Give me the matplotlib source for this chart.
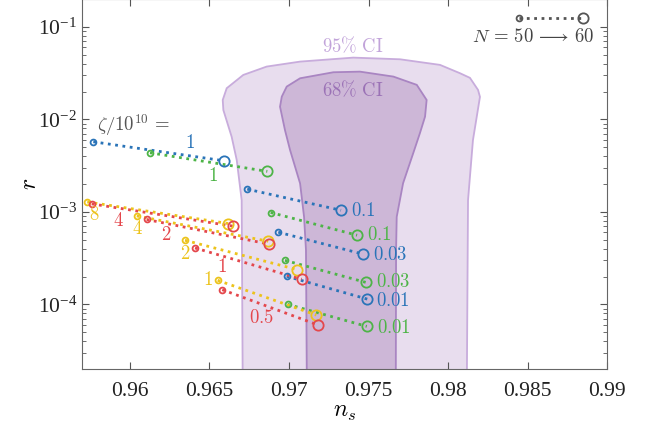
import matplotlib
matplotlib.use("Agg")
import matplotlib.pyplot as plt
from matplotlib.lines import Line2D
from matplotlib.legend_handler import HandlerBase

plt.rcParams["font.family"] = ["Liberation Serif", "DejaVu Serif"]
plt.rcParams["mathtext.fontset"] = "custom"
plt.rcParams["mathtext.rm"] = "Liberation Serif"
plt.rcParams["mathtext.it"] = "Liberation Serif:italic"
plt.rcParams["axes.unicode_minus"] = False

# ----------------------------
# Data: (n_s, r) for N=50 -> N=60, per zeta/10^10
# ----------------------------
blue_zeta = ["1", "0.1", "0.03", "0.01"]
blue_ns50 = [0.95771, 0.96738, 0.96933, 0.96986]
blue_r50 = [5.72e-3, 1.76e-3, 6.03e-4, 2.01e-4]
blue_ns60 = [0.96594, 0.97327, 0.97463, 0.97492]
blue_r60 = [3.56e-3, 1.04e-3, 3.50e-4, 1.14e-4]

green_zeta = ["1", "0.1", "0.03", "0.01"]
green_ns50 = [0.96127, 0.96885, 0.96975, 0.96992]
green_r50 = [4.35e-3, 9.84e-4, 2.99e-4, 1.00e-4]
green_ns60 = [0.96864, 0.97428, 0.97482, 0.97489]
green_r60 = [2.74e-3, 5.59e-4, 1.73e-4, 5.78e-5]

yellow_zeta = ["8", "4", "2", "1"]
yellow_ns50 = [0.95733, 0.96044, 0.96347, 0.96552]
yellow_r50 = [1.28e-3, 9.04e-4, 4.93e-4, 1.82e-4]
yellow_ns60 = [0.96619, 0.96870, 0.97049, 0.97172]
yellow_r60 = [7.48e-4, 4.81e-4, 2.38e-4, 7.66e-5]

red_zeta = ["4", "2", "1", "0.5"]
red_ns50 = [0.95761, 0.96106, 0.96410, 0.96581]
red_r50 = [1.22e-3, 8.27e-4, 4.07e-4, 1.44e-4]
red_ns60 = [0.96650, 0.96877, 0.97080, 0.97181]
red_r60 = [7.00e-4, 4.47e-4, 1.87e-4, 6.00e-5]

# Planck-like confidence regions (boundary traced, open at the bottom)
ci95_ns = [0.96710, 0.96703, 0.96672, 0.96640, 0.96588, 0.96584, 0.96609,
           0.96713, 0.96860, 0.97070, 0.97404, 0.97698, 0.97949, 0.98075,
           0.98137, 0.98188, 0.98200, 0.98156, 0.98125, 0.98117]
ci95_r = [1e-5, 1.34e-3, 3.63e-3, 6.49e-3, 1.26e-2, 1.62e-2, 2.17e-2,
          3.02e-2, 3.72e-2, 4.21e-2, 4.65e-2, 4.46e-2, 3.88e-2, 3.15e-2,
          2.81e-2, 2.08e-2, 1.75e-2, 5.97e-3, 1.34e-3, 1e-5]

ci68_ns = [0.97113, 0.97107, 0.97095, 0.97070, 0.97007, 0.96975, 0.96944,
           0.96955, 0.96986, 0.97070, 0.97279, 0.97446, 0.97656, 0.97803,
           0.97865, 0.97855, 0.97823, 0.97781, 0.97717, 0.97677, 0.97673,
           0.97671]
ci68_r = [1e-5, 3.85e-4, 8.82e-4, 2.03e-3, 4.66e-3, 7.66e-3, 1.37e-2,
          1.76e-2, 2.26e-2, 2.78e-2, 3.23e-2, 3.28e-2, 2.90e-2, 2.36e-2,
          1.62e-2, 1.07e-2, 7.11e-3, 4.32e-3, 2.04e-3, 8.82e-4, 3.85e-4,
          1e-5]

# label offsets (points) and which end they hang from
blue_lab = [("end", -24.7, 12.5), ("end", 7.5, -0.7), ("end", 7.5, -0.9), ("end", 6.5, -1.4)]
green_lab = [("end", -38.9, -3.4), ("end", 7.5, 0), ("end", 7.5, 0.2), ("end", 7.5, -1.2)]
yellow_lab = [("start", 4.8, -9.6), ("start", 0.4, -9.1), ("start", 0, -9.6), ("start", -7.2, 0.5)]
red_lab = [("start", 19.2, -12.2), ("start", 13.9, -11.3), ("start", 19.2, -13.7), ("start", 27.9, -20.2)]

BLUE = "#2a74b8"
GREEN = "#4db447"
YELLOW = "#ecc31c"
RED = "#e4474c"
GREY = "#555555"
SMALL_MS = 4.2
BIG_MS = 7.4


class HandlerN(HandlerBase):
    """dotted key: small circle (N=50) on the left, big circle (N=60) on the right"""
    def create_artists(self, legend, orig_handle, xdescent, ydescent, width, height,
                       fontsize, trans):
        y = height / 2 - ydescent
        x0, x1 = -xdescent, width - xdescent
        line = Line2D([x0, x1], [y, y], ls=":", lw=2.0, color=GREY)
        small = Line2D([x0], [y], marker="o", ms=SMALL_MS, mfc="none", mec=GREY, mew=1.3)
        big = Line2D([x1], [y], marker="o", ms=BIG_MS, mfc="none", mec=GREY, mew=1.3)
        for a in (line, small, big):
            a.set_transform(trans)
        return [line, small, big]


fig = plt.figure(figsize=(6.54, 4.32), dpi=100)
ax = fig.add_axes([0.1254, 0.1458, 0.8032, 0.8565])

ax.fill(ci95_ns, ci95_r, facecolor="#e8ddee", edgecolor="#c8acdc", lw=1.3, zorder=1)
ax.fill(ci68_ns, ci68_r, facecolor="#cdb7d7", edgecolor="#a985c2", lw=1.3, zorder=2)


def draw_set(ns50, r50, ns60, r60, zetas, labs, color):
    for i in range(len(zetas)):
        ax.plot([ns50[i], ns60[i]], [r50[i], r60[i]], ls=":", lw=2.0,
                color=color, zorder=3)
        ax.plot(ns50[i], r50[i], "o", ms=SMALL_MS, mfc="none", mec=color, mew=1.3, zorder=4)
        ax.plot(ns60[i], r60[i], "o", ms=BIG_MS, mfc="none", mec=color, mew=1.3, zorder=4)
        where, dx, dy = labs[i]
        xy = (ns50[i], r50[i]) if where == "start" else (ns60[i], r60[i])
        ha = "left" if (where == "end" and dx > 0) else "center"
        ax.annotate(rf"${zetas[i]}$", xy, xytext=(dx, dy), textcoords="offset points",
                    ha=ha, va="center", color=color, fontsize=13.5,
                    math_fontfamily="cm", zorder=5)


draw_set(blue_ns50, blue_r50, blue_ns60, blue_r60, blue_zeta, blue_lab, BLUE)
draw_set(green_ns50, green_r50, green_ns60, green_r60, green_zeta, green_lab, GREEN)
draw_set(yellow_ns50, yellow_r50, yellow_ns60, yellow_r60, yellow_zeta, yellow_lab, YELLOW)
draw_set(red_ns50, red_r50, red_ns60, red_r60, red_zeta, red_lab, RED)

ax.text(0.028, 0.659, r"$\zeta/10^{10}\,=$", transform=ax.transAxes, ha="left",
        va="center", fontsize=13.5, color=GREY, math_fontfamily="cm")
ax.text(0.5165, 0.873, r"$95\%\ \mathrm{CI}$", transform=ax.transAxes, ha="center",
        va="center", fontsize=13.5, color="#c2a4da", math_fontfamily="cm")
ax.text(0.5165, 0.754, r"$68\%\ \mathrm{CI}$", transform=ax.transAxes, ha="center",
        va="center", fontsize=13.5, color="#9b72b6", math_fontfamily="cm")

# legend key above its caption
ax.legend(handles=[Line2D([], [])], labels=[""], handler_map={Line2D: HandlerN()},
          loc="center", bbox_to_anchor=(0.8928, 0.944), frameon=False, fontsize=13,
          handlelength=3.55, handletextpad=0, borderpad=0, borderaxespad=0)
ax.text(0.9747, 0.898, r"$N\,=\,50\,\longrightarrow\,60$", transform=ax.transAxes,
        ha="right", va="center", fontsize=13.5, color="#444444", math_fontfamily="cm")

ax.set_yscale("log")
ax.set_xlim(0.957, 0.99)
ax.set_ylim(2e-5, 0.2)
ax.set_xticks([0.96, 0.965, 0.97, 0.975, 0.98, 0.985, 0.99])
ax.set_xticklabels(["0.96", "0.965", "0.97", "0.975", "0.98", "0.985", "0.99"])
ax.tick_params(which="both", direction="in", top=True, right=True, colors="#555555",
               labelcolor="#222222", labelsize=15.5)
ax.tick_params(which="major", length=5)
ax.tick_params(which="minor", length=3)
ax.tick_params(axis="x", pad=9)
for s in ax.spines.values():
    s.set_color("#666666")
ax.set_xlabel(r"$n_s$", fontsize=17, math_fontfamily="cm", labelpad=1)
ax.set_ylabel(r"$r$", fontsize=17, math_fontfamily="cm", labelpad=-2)

fig.savefig("out.png", dpi=100)
